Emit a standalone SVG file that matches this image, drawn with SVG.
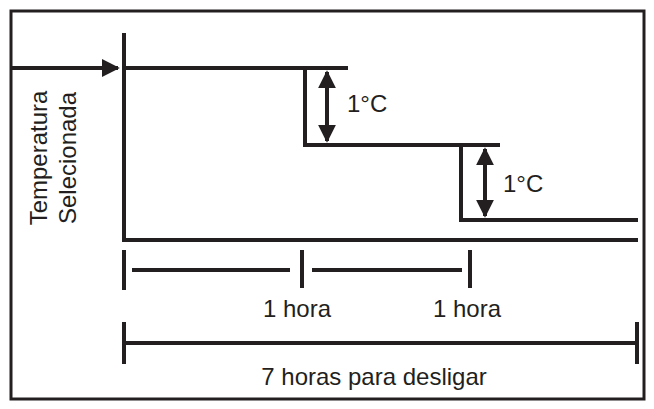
<svg xmlns="http://www.w3.org/2000/svg" width="654" height="409" viewBox="0 0 654 409">
<style>
.l{stroke:#231f20;stroke-width:4;fill:none}
.t{font-family:"Liberation Sans",Arial,sans-serif;font-size:24px;fill:#231f20}
</style>
<defs>
<marker id="a" viewBox="0 0 10 10" refX="9" refY="5" markerWidth="4.5" markerHeight="4.5" orient="auto-start-reverse"><path d="M0,0L10,5L0,10z" fill="#231f20"/></marker>
</defs>
<rect x="0" y="0" width="654" height="409" fill="#fff"/>
<rect x="11" y="11" width="633" height="388" fill="none" stroke="#231f20" stroke-width="3"/>
<g id="connectors">
<path class="l" d="M124,33V241M122,240H638"/>
<path class="l" d="M12,68H118" marker-end="url(#a)"/>
<path class="l" d="M124,68H348M305,68V145H500M461,145V220H638"/>
<path class="l" d="M327,72V141" marker-start="url(#a)" marker-end="url(#a)"/>
<path class="l" d="M485,149V216" marker-start="url(#a)" marker-end="url(#a)"/>
<path class="l" d="M124,250V290M302,250V288M470,250V288"/>
<path class="l" d="M132,270H290M312,270H462" stroke-width="2.5"/>
<path class="l" d="M124,322V364M637,322V364M124,343H637"/>
</g>
<g id="labels">
<text class="t" x="347" y="112">1°C</text>
<text class="t" x="503" y="192">1°C</text>
<text class="t" x="297" y="317" text-anchor="middle">1 hora</text>
<text class="t" x="467" y="317" text-anchor="middle">1 hora</text>
<text class="t" x="374" y="385" text-anchor="middle">7 horas para desligar</text>
<text class="t" transform="translate(47,158) rotate(-90)" text-anchor="middle">Temperatura</text>
<text class="t" transform="translate(76,158) rotate(-90)" text-anchor="middle">Selecionada</text>
</g>
</svg>
